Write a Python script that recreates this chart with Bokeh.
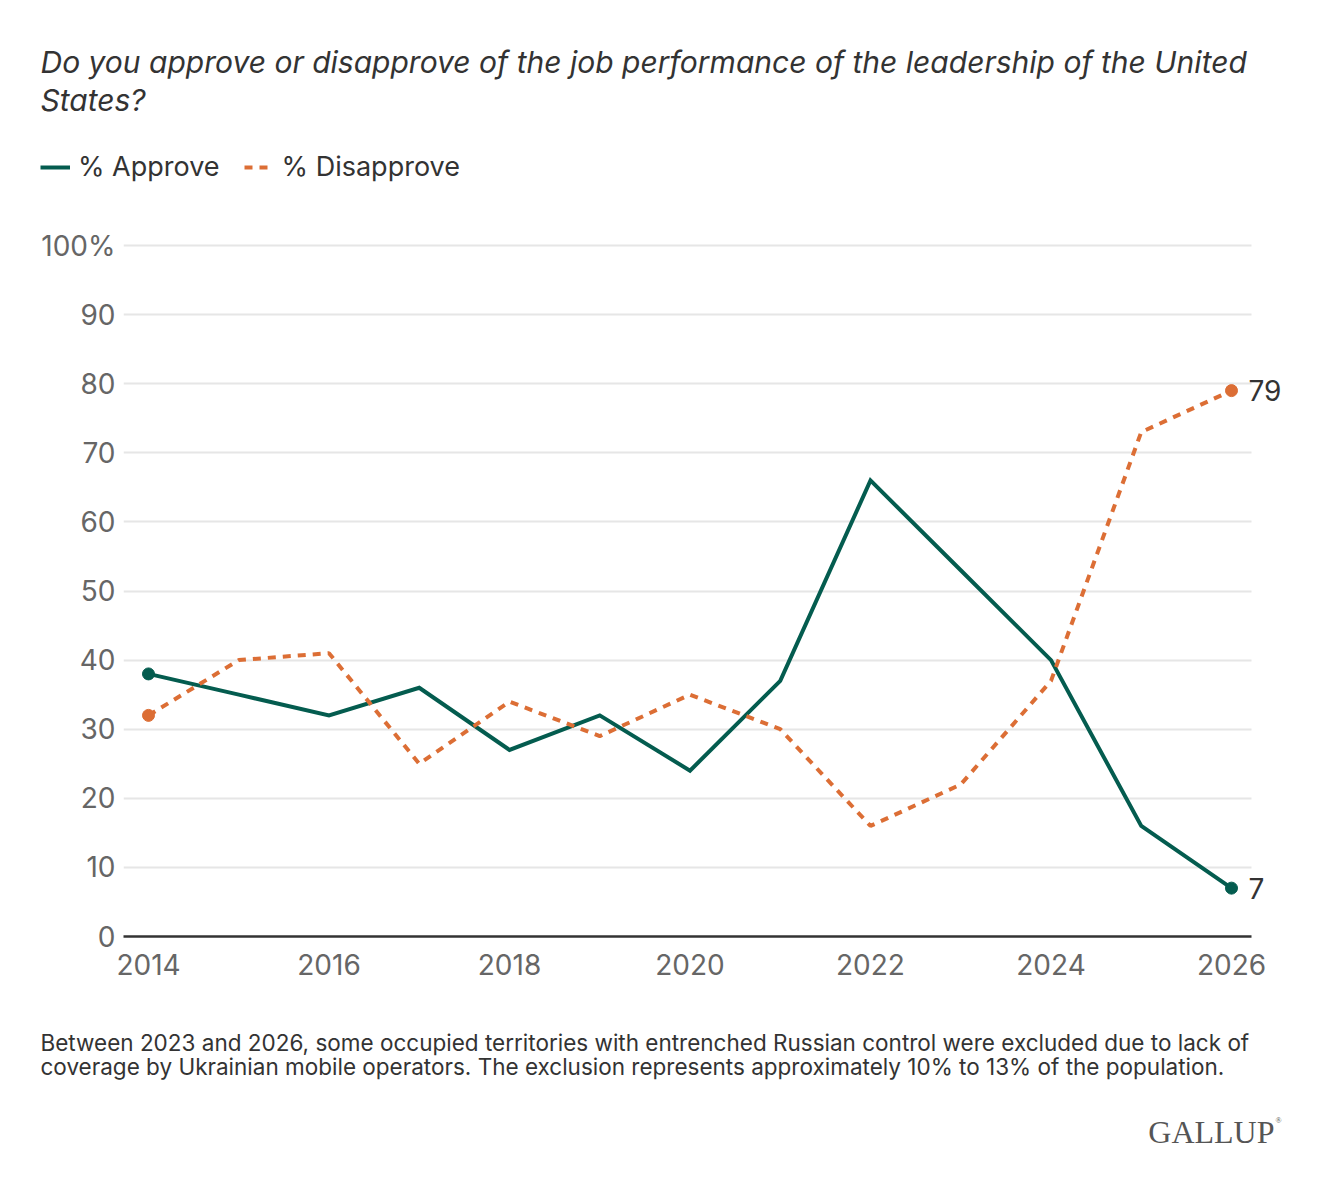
from bokeh.plotting import figure
from bokeh.models import Label, Legend, LegendItem, FixedTicker, Range1d
from bokeh.layouts import column
from bokeh.embed import file_html
from bokeh.resources import INLINE

years = [2014, 2015, 2016, 2017, 2018, 2019, 2020, 2021, 2022, 2023, 2024, 2025, 2026]
approve = [38, 35, 32, 36, 27, 32, 24, 37, 66, 53, 40, 16, 7]
disapprove = [32, 40, 41, 25, 34, 29, 35, 30, 16, 22, 37, 73, 79]
x_ticks = [2014, 2016, 2018, 2020, 2022, 2024, 2026]
y_ticks = [0, 10, 20, 30, 40, 50, 60, 70, 80, 90, 100]
series_names = ["% Approve", "% Disapprove"]

title_lines = ["Do you approve or disapprove of the job performance of the leadership of the United",
               "States?"]
note_lines = ["Between 2023 and 2026, some occupied territories with entrenched Russian control were excluded due to lack of",
              "coverage by Ukrainian mobile operators. The exclusion represents approximately 10% to 13% of the population."]

GREEN = "#045c4f"
ORANGE = "#dc6e35"
FONT = "Inter"
W = 1320
TOP_H = 200
MAIN_H = 800
FOOT_H = 188


def blank_fig(h):
    f = figure(width=W, height=h, output_backend="svg", toolbar_location=None,
               x_range=Range1d(0, W), y_range=Range1d(h, 0),
               x_axis_type=None, y_axis_type=None,
               min_border=0, min_border_left=0, min_border_right=0,
               min_border_top=0, min_border_bottom=0)
    f.outline_line_color = None
    f.xgrid.grid_line_color = None
    f.ygrid.grid_line_color = None
    f.background_fill_color = "white"
    f.border_fill_color = "white"
    return f


# ---------- top: title + legend ----------
top = blank_fig(TOP_H)
for i, t in enumerate(title_lines):
    top.add_layout(Label(x=40, y=61 + 38 * i, text=t, text_baseline="middle",
                         text_font=FONT, text_font_style="italic", text_font_size="30px",
                         text_color="#333333"))
# legend sample renderers (kept off-canvas; only their legend glyphs show)
la = top.line(x=[-50, -40], y=[-50, -50], line_color=GREEN, line_width=4)
ld = top.line(x=[-50, -40], y=[-50, -50], line_color=ORANGE, line_width=4, line_dash="8 7")
legend = Legend(items=[LegendItem(label=series_names[0], renderers=[la]),
                       LegendItem(label=series_names[1], renderers=[ld])],
                orientation="horizontal", location=(40, TOP_H - 183),
                label_text_font=FONT, label_text_font_size="27px", label_text_color="#333333",
                glyph_width=30, glyph_height=28, label_height=28, label_standoff=8, spacing=24,
                padding=0, margin=0, border_line_color=None, background_fill_alpha=0)
top.add_layout(legend, "center")

# ---------- main chart ----------
FL, FR = 123, 1290
PX_YEAR = 90.25
x0 = 2014 - 25 / PX_YEAR
x1 = x0 + (FR - FL) / PX_YEAR
x_end = 2026 + 20 / PX_YEAR
frame_h = MAIN_H - 40 - 64
y1 = frame_h / 6.91

p = figure(width=W, height=MAIN_H, output_backend="svg", toolbar_location=None,
           x_range=Range1d(x0, x1), y_range=Range1d(0, y1),
           min_border_left=FL, min_border_right=W - FR, min_border_top=40, min_border_bottom=64)
p.outline_line_color = None
p.background_fill_color = "white"
p.border_fill_color = "white"

p.xgrid.grid_line_color = None
yg = p.ygrid[0]
yg.grid_line_color = "#e6e6e6"
yg.grid_line_width = 2
yg.ticker = FixedTicker(ticks=y_ticks[1:])
if "cross_bounds" in yg.properties():
    yg.cross_bounds = (x0, x_end)

p.yaxis.ticker = FixedTicker(ticks=y_ticks)
p.yaxis.major_label_overrides = {100: "100%"}
p.yaxis.axis_line_color = None
p.yaxis.major_tick_line_color = None
p.yaxis.major_tick_out = 0
p.yaxis.minor_tick_line_color = None
p.yaxis.major_label_text_font = FONT
p.yaxis.major_label_text_font_size = "28px"
p.yaxis.major_label_text_color = "#666666"
p.yaxis.major_label_standoff = 8

p.xaxis.ticker = FixedTicker(ticks=x_ticks)
p.xaxis.bounds = (x0, x_end)
p.xaxis.axis_line_color = "#333333"
p.xaxis.axis_line_width = 2.5
p.xaxis.major_tick_line_color = None
p.xaxis.major_tick_out = 0
p.xaxis.minor_tick_line_color = None
p.xaxis.major_label_text_font = FONT
p.xaxis.major_label_text_font_size = "28px"
p.xaxis.major_label_text_color = "#666666"
p.xaxis.major_label_standoff = 17

p.line(years, approve, line_color=GREEN, line_width=4, line_join="miter")
p.line(years, disapprove, line_color=ORANGE, line_width=4, line_dash="8 7")
p.scatter([years[0], years[-1]], [approve[0], approve[-1]], size=12, color=GREEN)
p.scatter([years[0], years[-1]], [disapprove[0], disapprove[-1]], size=12, color=ORANGE)

for val in (disapprove[-1], approve[-1]):
    p.add_layout(Label(x=years[-1], y=val, text=str(val), x_offset=17,
                       text_baseline="middle", text_font=FONT, text_font_size="28px",
                       text_color="#333333"))

# ---------- footer ----------
foot = blank_fig(FOOT_H)
for i, t in enumerate(note_lines):
    foot.add_layout(Label(x=40, y=42 + 24 * i, text=t, text_baseline="middle",
                          text_font=FONT, text_font_size="22.5px", text_color="#333333"))
foot.add_layout(Label(x=1274, y=131, text="GALLUP", text_baseline="middle", text_align="right",
                      text_font="Liberation Serif", text_font_size="32px", text_color="#555555"))
foot.add_layout(Label(x=1275, y=120, text="®", text_baseline="middle", text_align="left",
                      text_font="Liberation Serif", text_font_size="8px", text_color="#555555"))

layout = column(column(top), p, column(foot), spacing=0)
open("out.html", "w").write(file_html(layout, INLINE))
